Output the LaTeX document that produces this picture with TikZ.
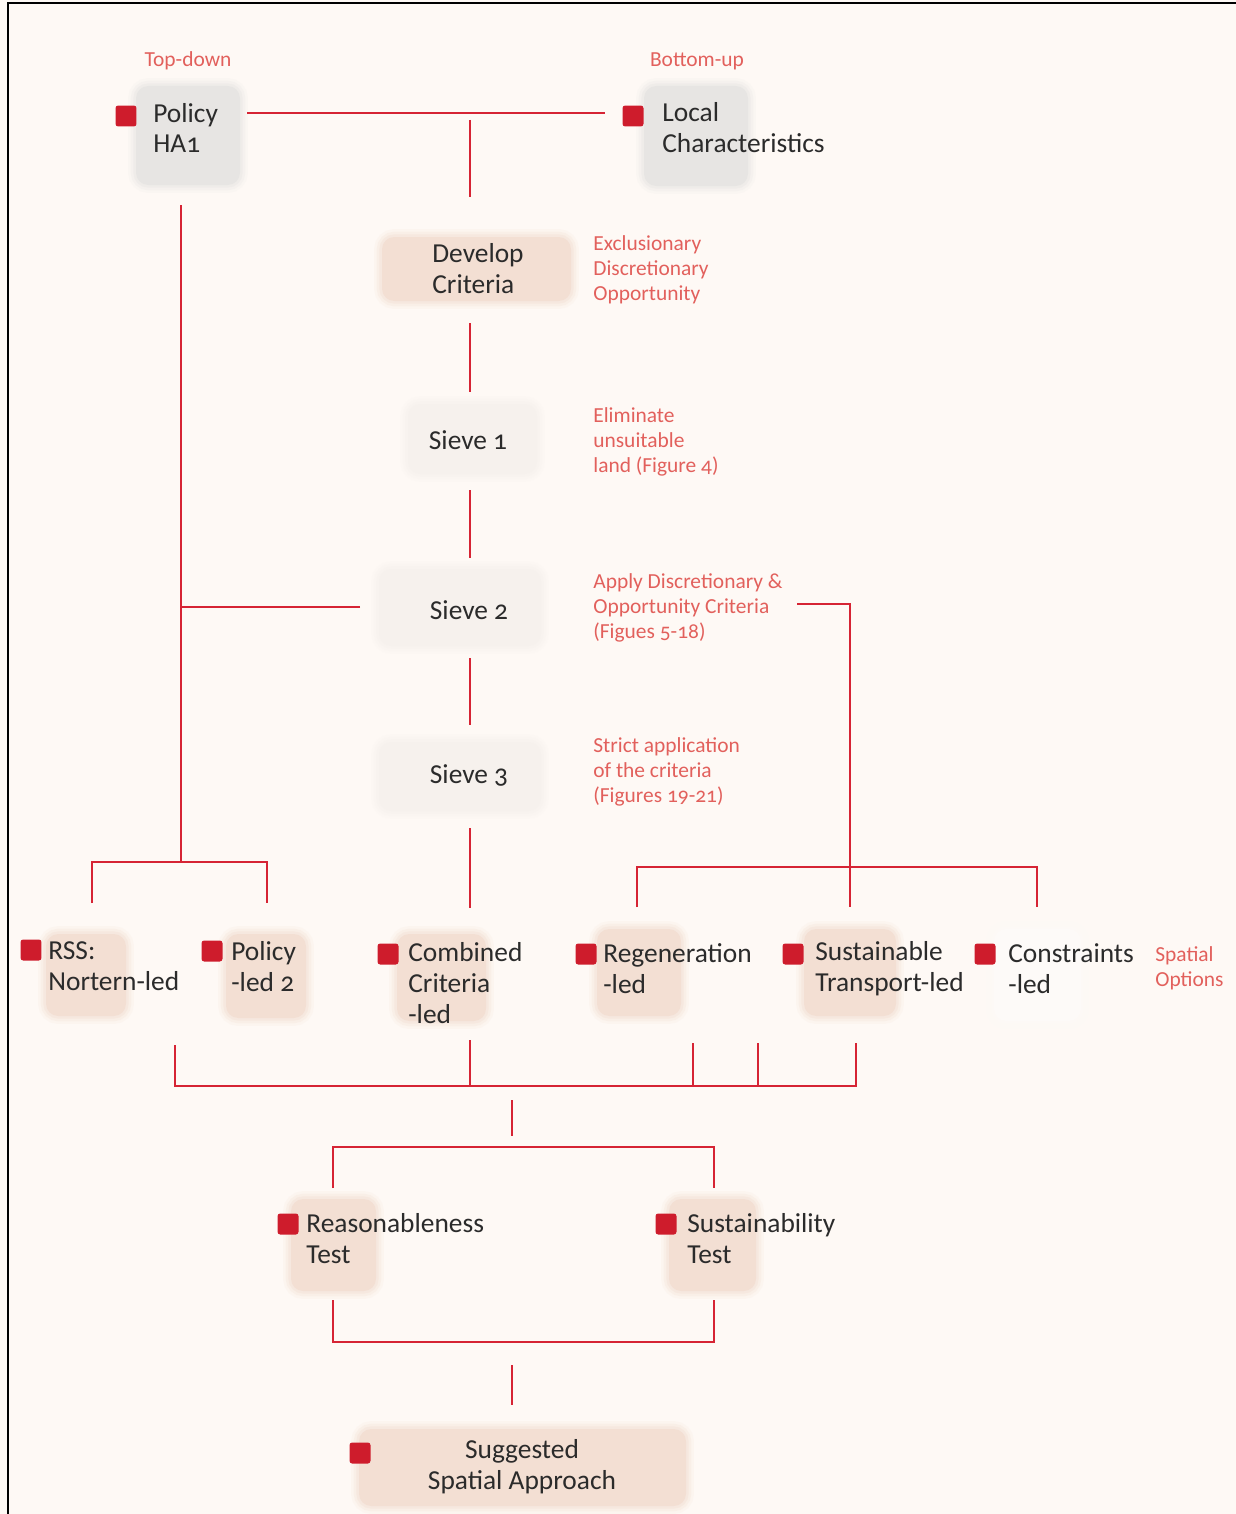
\documentclass[tikz,border=0pt]{standalone}
\usepackage{fontspec}
\setmainfont{Carlito}[Numbers=OldStyle]
\usetikzlibrary{fit,calc}

\begin{document}
\begin{tikzpicture}[x=0.02cm,y=-0.02cm,
    link/.style={draw=linkred,line width=0.04cm},
    softbox/.style={fill=#1,draw=none,rounded corners=7pt,inner sep=0pt,
        preaction={draw=#1,line width=9pt,draw opacity=0.15},
        preaction={draw=#1,line width=6pt,draw opacity=0.25},
        preaction={draw=#1,line width=3pt,draw opacity=0.4}},
    marker/.style={fill=markred,rounded corners=1.5pt,minimum size=0.42cm,inner sep=0pt},
    boxtext/.style={text=textgrey,align=left,inner sep=0pt,font=\fontsize{15.6}{17.6}\selectfont},
    note/.style={text=notered,align=left,inner sep=0pt,font=\fontsize{12.2}{14.2}\selectfont}]
    \definecolor{bgcol}{RGB}{254,249,245}
    \definecolor{linkred}{RGB}{214,36,52}
    \definecolor{markred}{RGB}{206,28,44}
    \definecolor{notered}{RGB}{226,96,92}
    \definecolor{textgrey}{RGB}{43,43,43}
    \definecolor{greybox}{RGB}{231,229,227}
    \definecolor{peachbox}{RGB}{243,223,211}
    \definecolor{sievebox}{RGB}{246,241,237}
    \definecolor{palebox}{RGB}{253,250,248}

    \useasboundingbox (0,0) rectangle (1236,1514);
    \fill[bgcol] (0,0) rectangle (1236,1514);
    \draw[black,line width=0.04cm] (8,1514) -- (8,3) -- (1236,3);

    % background boxes
    \node[softbox=greybox,fit={(136,86) (240,185)}] (bxpolicy) {};
    \node[softbox=greybox,fit={(644,86) (748,186)}] (bxlocal) {};
    \node[softbox=peachbox,fit={(382,237) (571,301)}] (bxdevelop) {};
    \node[softbox=sievebox,fit={(408,404) (537,474)}] (bxsieve1) {};
    \node[softbox=sievebox,fit={(379,569) (541,646)}] (bxsieve2) {};
    \node[softbox=sievebox,fit={(379,742) (541,811)}] (bxsieve3) {};
    \node[softbox=peachbox,fit={(46,934) (126,1016)}] (bxrss) {};
    \node[softbox=peachbox,fit={(226,934) (306,1018)}] (bxpolicyled) {};
    \node[softbox=peachbox,fit={(397,934) (486,1021)}] (bxcombined) {};
    \node[softbox=peachbox,fit={(597,929) (681,1016)}] (bxregen) {};
    \node[softbox=peachbox,fit={(804,929) (896,1016)}] (bxtransport) {};
    \node[softbox=palebox,fit={(994,929) (1081,1021)}] (bxconstraints) {};
    \node[softbox=peachbox,fit={(291,1199) (376,1291)}] (bxreason) {};
    \node[softbox=peachbox,fit={(669,1199) (756,1291)}] (bxsustain) {};
    \node[softbox=peachbox,fit={(359,1429) (686,1506)}] (bxsuggest) {};

    % red markers
    \node[marker] (mkpolicy) at (126,116) {};
    \node[marker] (mklocal) at (633,116) {};
    \node[marker] (mkrss) at (31,950) {};
    \node[marker] (mkpolicyled) at (212,951) {};
    \node[marker] (mkcombined) at (388,954) {};
    \node[marker] (mkregen) at (586,954) {};
    \node[marker] (mktransport) at (793,954) {};
    \node[marker] (mkconstraints) at (985,954) {};
    \node[marker] (mkreason) at (288,1224) {};
    \node[marker] (mksustain) at (666,1224) {};
    \node[marker] (mksuggest) at (360,1453) {};

    % box texts
    \node[boxtext,anchor=west] (policy) at (153,128) {Policy\\HA1};
    \node[boxtext,anchor=west] (local) at (662,128) {Local\\Characteristics};
    \node[boxtext,anchor=west] (develop) at (432,269) {Develop\\Criteria};
    \node[boxtext] (sieve1) at (468,440) {Sieve 1};
    \node[boxtext] (sieve2) at (469,610) {Sieve 2};
    \node[boxtext] (sieve3) at (469,775) {Sieve 3};
    \node[boxtext,anchor=west] (rss) at (48,966) {RSS:\\Nortern-led};
    \node[boxtext,anchor=west] (policyled) at (231,967) {Policy\\-led 2};
    \node[boxtext,anchor=west] (combined) at (408,983) {Combined\\Criteria\\-led};
    \node[boxtext,anchor=west] (regen) at (603,969) {Regeneration\\-led};
    \node[boxtext,anchor=west] (transport) at (815,969) {Sustainable\\Transport-led};
    \node[boxtext,anchor=west] (constraints) at (1008,969) {Constraints\\-led};
    \node[boxtext,anchor=west] (reason) at (306,1239) {Reasonableness\\Test};
    \node[boxtext,anchor=west] (sustain) at (687,1239) {Sustainability\\Test};
    \node[boxtext,align=center] (suggest) at (522,1467) {Suggested\\Spatial Approach};

    % side notes
    \node[note] (topdown) at (188,61) {Top-down};
    \node[note] (bottomup) at (697,61) {Bottom-up};
    \node[note,anchor=west] (crittypes) at (593,270) {Exclusionary\\Discretionary\\Opportunity};
    \node[note,anchor=west] (eliminate) at (593,442) {Eliminate\\unsuitable\\land (Figure 4)};
    \node[note,anchor=west] (applycrit) at (593,608) {Apply Discretionary \&\\Opportunity Criteria\\(Figues 5-18)};
    \node[note,anchor=west] (strict) at (593,772) {Strict application\\of the criteria\\(Figures 19-21)};
    \node[note,anchor=west] (spatialopt) at (1155,968) {Spatial\\Options};

    % connector ends
    \coordinate (topl) at (247,113);
    \coordinate (topr) at (605,113);
    \coordinate (tophub) at (470,120);
    \coordinate (devin) at (470,197);
    \coordinate (devout) at (470,323);
    \coordinate (s1in) at (470,392);
    \coordinate (s1out) at (470,490);
    \coordinate (s2in) at (470,558);
    \coordinate (s2out) at (470,658);
    \coordinate (s3in) at (470,725);
    \coordinate (s3out) at (470,828);
    \coordinate (combin) at (470,908);
    \coordinate (policyout) at (181,205);
    \coordinate (lbus) at (181,862);
    \coordinate (lbusl) at (92,903);
    \coordinate (lbusr) at (267,903);
    \coordinate (s2left) at (360,607);
    \coordinate (applyout) at (797,604);
    \coordinate (rbus) at (850,867);
    \coordinate (rbusl) at (637,907);
    \coordinate (rbusm) at (850,907);
    \coordinate (rbusr) at (1037,907);
    \coordinate (rssout) at (175,1045);
    \coordinate (combout) at (470,1040);
    \coordinate (regenout) at (693,1043);
    \coordinate (regenout2) at (758,1043);
    \coordinate (transout) at (856,1043);
    \coordinate (obus) at (512,1086);
    \coordinate (testin) at (512,1100);
    \coordinate (testhub) at (512,1136);
    \coordinate (tbus) at (512,1147);
    \coordinate (reasonin) at (333,1188);
    \coordinate (sustainin) at (714,1188);
    \coordinate (reasonout) at (333,1300);
    \coordinate (sustainout) at (714,1300);
    \coordinate (bbus) at (512,1342);
    \coordinate (suggout) at (512,1365);
    \coordinate (suggin) at (512,1405);

    % connectors
    \draw[link] (topl) -- (topr);
    \draw[link] (tophub) -- (devin);
    \draw[link] (devout) -- (s1in);
    \draw[link] (s1out) -- (s2in);
    \draw[link] (s2out) -- (s3in);
    \draw[link] (s3out) -- (combin);
    \draw[link] (policyout) -- (lbus);
    \draw[link] (lbusl) |- (lbus) -| (lbusr);
    \draw[link] (s2left) -- (s2left -| policyout);
    \draw[link] (applyout) -| (rbusm);
    \draw[link] (rbusl) |- (rbus) -| (rbusr);
    \draw[link] (rssout) |- (obus) -| (transout);
    \draw[link] (combout) -- (combout |- obus);
    \draw[link] (regenout) -- (regenout |- obus);
    \draw[link] (regenout2) -- (regenout2 |- obus);
    \draw[link] (testin) -- (testhub);
    \draw[link] (reasonin) |- (tbus) -| (sustainin);
    \draw[link] (reasonout) |- (bbus) -| (sustainout);
    \draw[link] (suggout) -- (suggin);
\end{tikzpicture}
\end{document}
